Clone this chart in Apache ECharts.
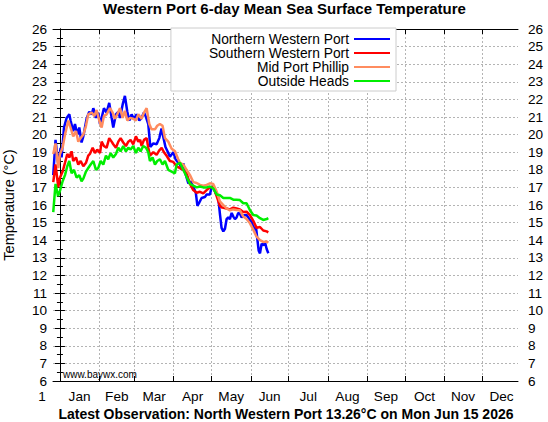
<!DOCTYPE html>
<html><head><meta charset="utf-8">
<script src="https://cdn.jsdelivr.net/npm/echarts@6/dist/echarts.min.js"></script>
<style>html,body{margin:0;padding:0;background:#fff}#c{width:548px;height:422px}</style>
</head><body><div id="c"></div>
<script>
const titleText = 'Western Port 6-day Mean Sea Surface Temperature';
const footerText = 'Latest Observation: North Western Port 13.26°C on Mon Jun 15 2026';
const creditText = 'www.baywx.com';
const yAxisName = 'Temperature (°C)';
const seriesNames = ['Northern Western Port', 'Southern Western Port', 'Mid Port Phillip', 'Outside Heads'];
const seriesColors = ['#0000ff', '#ff0000', '#ff8c5f', '#00ee00'];
const monthNames = ['Jan','Feb','Mar','Apr','May','Jun','Jul','Aug','Sep','Oct','Nov','Dec'];
// day-of-year (0 = Jan 1) at which each month starts, and month lengths
const monthStarts = [0,31,59,90,120,151,181,212,243,273,304,334];
const monthLengths = [31,28,31,30,31,30,31,31,30,31,30,31];
const xStartLabel = '1';
const xMin = -5.5, xMax = 362.5;
const yMin = 6, yMax = 26, yStep = 1;

// [day since Jan 1, °C]
const northWP = [[-5.3,17.7],[-3.5,19.7],[-1.3,18.3],[0.5,19.25],[1.3,18.7],[3.2,20.4],[5.3,20.95],[7.4,21.15],[8.4,20.8],[10.5,20.2],[11.9,20.6],[13.7,20.0],[15.3,20.4],[17.1,19.55],[18.5,19.9],[19.8,20.4],[21.1,20.9],[23.2,21.3],[25.1,21.15],[26.4,21.5],[28.5,20.95],[30.3,21.25],[31.7,20.6],[33.0,20.95],[34.8,21.5],[36.9,21.25],[39.0,21.8],[40.9,20.95],[42.2,20.4],[44.3,21.15],[46.2,21.3],[47.5,20.95],[49.6,21.7],[51.4,22.2],[53.3,21.3],[54.9,20.8],[56.7,21.15],[58.6,20.9],[60.7,21.15],[62.8,20.8],[64.6,20.95],[66.5,21.25],[68.1,21.0],[69.9,20.6],[71.5,19.3],[73.9,19.5],[76.5,19.45],[78.6,19.8],[80.4,20.35],[82.0,19.8],[83.5,19.3],[85.5,19.0],[87.0,18.74],[89.7,19.0],[91.5,18.6],[93.6,18.4],[95.0,18.3],[96.5,18.0],[97.6,18.37],[98.9,17.9],[101.6,17.23],[103.5,17.33],[105.5,17.04],[107.5,16.7],[108.8,15.95],[110.0,16.1],[112.1,16.4],[114.7,16.45],[116.1,16.6],[118.7,16.6],[120.0,17.0],[121.3,17.05],[123.0,16.7],[125.3,16.4],[126.6,15.5],[127.9,14.7],[129.3,14.5],[130.6,14.65],[131.9,15.2],[133.2,15.3],[134.5,15.2],[135.9,15.55],[137.2,15.34],[138.5,15.2],[139.8,15.3],[141.1,15.55],[142.4,15.5],[143.8,15.3],[145.1,15.4],[147.7,15.43],[150.4,15.15],[152.0,15.0],[153.5,14.6],[155.1,14.77],[156.3,14.0],[157.3,13.4],[158.3,13.25],[159.6,13.8],[160.9,13.7],[162.2,13.9],[163.6,13.5],[164.9,13.26]];
const southWP = [[-5.3,17.3],[-3.5,18.3],[-1.3,17.0],[0,17.55],[2.1,17.9],[4.0,18.4],[5.8,18.9],[7.4,18.7],[9.2,19.05],[10.5,18.5],[12.7,18.7],[14.5,18.3],[16.4,18.5],[18.5,18.2],[20.6,18.4],[22.4,18.8],[23.7,18.9],[25.9,19.25],[27.7,18.95],[29.5,19.15],[31.7,18.95],[33.0,19.6],[34.8,19.35],[36.9,19.25],[39.0,19.8],[40.9,19.6],[42.2,19.45],[44.3,19.25],[46.2,19.6],[48.0,19.8],[50.1,19.55],[52.2,19.35],[54.1,19.6],[55.9,19.7],[58.0,19.45],[60.1,19.9],[62.0,19.6],[63.5,19.7],[64.6,19.35],[66.5,19.7],[68.6,19.8],[69.9,19.25],[71.2,18.8],[73.9,19.0],[76.5,18.85],[78.6,19.1],[80.5,19.25],[82.3,19.0],[84.4,18.8],[87.0,18.5],[89.7,18.45],[92.3,18.2],[95.0,18.1],[97.6,18.0],[100.2,17.8],[102.9,17.2],[105.5,16.85],[108.2,16.7],[110.8,16.75],[113.4,16.66],[116.1,16.85],[118.7,17.0],[121.3,17.04],[124.0,16.5],[126.6,15.95],[128.5,15.85],[131.9,15.8],[134.5,15.75],[137.2,15.85],[139.8,15.8],[142.4,15.75],[145.1,15.6],[147.7,15.62],[150.4,15.43],[153.0,15.1],[155.6,14.7],[158.3,14.75],[160.9,14.55],[163.6,14.5],[164.9,14.45]];
const midPP = [[-5.3,18.9],[-3.5,19.5],[-1.3,18.1],[0,18.9],[2.1,19.25],[4.0,20.0],[6.6,20.8],[8.4,20.4],[10.5,19.9],[12.7,20.2],[14.5,19.6],[16.4,19.8],[18.5,20.0],[20.6,20.5],[22.4,21.15],[25.1,21.25],[27.2,21.05],[29.0,21.4],[31.1,20.8],[33.0,20.4],[34.8,21.05],[36.9,21.15],[39.6,21.5],[41.7,21.25],[43.5,20.9],[45.4,21.15],[47.5,21.5],[49.6,20.95],[51.4,21.35],[53.3,20.8],[55.4,20.95],[58.0,20.9],[60.1,20.8],[62.0,21.15],[64.6,20.9],[66.5,21.25],[68.6,21.5],[70.7,20.6],[72.5,20.3],[75.2,20.3],[77.0,20.5],[79.1,20.6],[81.2,20.5],[83.1,19.8],[85.7,19.6],[88.4,19.2],[91.0,19.05],[93.6,18.6],[95.0,18.4],[97.6,18.3],[100.2,18.0],[102.9,17.7],[105.5,17.3],[108.2,17.25],[110.8,17.14],[113.4,17.1],[116.1,17.14],[118.7,17.23],[121.3,17.2],[124.0,16.76],[126.6,16.2],[129.3,16.0],[131.9,15.8],[134.5,15.7],[137.2,15.75],[139.8,15.72],[142.4,15.7],[145.1,15.34],[147.7,15.2],[150.4,14.96],[153.0,14.6],[155.6,14.2],[158.3,14.0],[160.9,13.9],[163.6,13.92],[164.9,13.85]];
const outsideHeads = [[-5.3,15.6],[-3.5,17.2],[-1.5,16.5],[0,16.8],[2.1,17.35],[4.0,17.7],[5.8,18.2],[7.4,18.5],[9.2,17.8],[11.1,18.0],[13.2,17.55],[15.3,17.7],[17.1,17.35],[18.5,17.5],[20.6,17.9],[22.4,18.1],[24.3,18.3],[26.4,18.5],[28.5,18.0],[30.3,18.1],[32.2,18.5],[34.3,18.3],[36.4,18.8],[38.2,18.6],[40.1,18.95],[42.2,18.7],[44.3,18.9],[46.2,19.25],[48.0,19.05],[50.1,19.35],[52.2,19.05],[54.1,19.25],[55.9,19.15],[58.0,19.35],[60.1,18.95],[62.0,19.25],[63.8,19.05],[65.9,19.35],[68.1,19.25],[69.9,19.0],[71.2,18.5],[73.3,18.7],[75.2,18.3],[77.0,18.5],[79.1,18.6],[81.2,18.3],[83.1,18.5],[85.7,18.0],[88.4,17.9],[91.0,17.8],[92.3,18.3],[95.0,18.4],[97.6,18.0],[100.2,17.6],[102.9,17.2],[105.5,17.1],[108.2,17.0],[110.8,17.05],[113.4,17.0],[116.1,17.0],[118.7,17.05],[121.3,16.95],[124.0,16.6],[126.6,16.55],[129.3,16.4],[131.9,16.4],[134.5,16.4],[137.2,16.3],[139.8,16.3],[142.4,16.28],[145.1,16.1],[147.7,16.1],[150.4,15.7],[153.0,15.43],[155.6,15.4],[158.3,15.25],[160.9,15.15],[163.6,15.2],[164.9,15.25]];

const FONT = 'Liberation Sans, Arial, Helvetica, sans-serif';
const labelDays = monthStarts.map((s, i) => s + monthLengths[i] / 2);
const seriesData = [northWP, southWP, midPP, outsideHeads];
const gridLine = { color: '#b4b4b4', width: 1, type: [2, 2] };
const TICK_FS = 13.6;

const chart = echarts.init(document.getElementById('c'), null, { renderer: 'svg' });
chart.setOption({
  animation: false,
  backgroundColor: '#fff',
  textStyle: { fontFamily: FONT },
  grid: { left: 53, right: 30, top: 29, bottom: 41, outerBoundsMode: 'none', containLabel: false },
  legend: {
    data: seriesNames,
    orient: 'vertical', align: 'right',
    right: 152, top: 28,
    padding: [4, 6, 3, 38],
    itemWidth: 36, itemHeight: 2, itemGap: 0,
    icon: 'rect',
    backgroundColor: '#fff', borderColor: '#cccccc', borderWidth: 1,
    textStyle: { fontSize: 13.8, color: '#000', fontFamily: FONT, lineHeight: 13.7 },
    selectedMode: false
  },
  xAxis: [{
    type: 'value', min: xMin, max: xMax, position: 'bottom',
    axisLine: { show: true, lineStyle: { color: '#000', width: 1 } },
    axisTick: { show: true, inside: true, length: 5, customValues: monthStarts, lineStyle: { color: '#000' } },
    axisLabel: {
      customValues: [xMin].concat(labelDays),
      fontSize: TICK_FS, color: '#000', margin: 8, fontFamily: FONT,
      formatter: function (v) {
        if (Math.abs(v - xMin) < 1e-6) return '{one|' + xStartLabel + '}';
        const i = labelDays.findIndex(d => Math.abs(d - v) < 1e-6);
        return i >= 0 ? monthNames[i] : '';
      },
      rich: { one: { fontSize: TICK_FS, color: '#000', fontFamily: FONT, padding: [0, 22, 0, 0] } }
    },
    splitLine: { show: true, lineStyle: gridLine }
  }, {
    type: 'value', min: xMin, max: xMax, position: 'top',
    axisLine: { show: true, lineStyle: { color: '#000', width: 1 } },
    axisTick: { show: true, inside: true, length: 5, customValues: monthStarts, lineStyle: { color: '#000' } },
    axisLabel: { show: false },
    splitLine: { show: false }
  }],
  yAxis: [{
    type: 'value', min: yMin, max: yMax, interval: yStep, position: 'left',
    name: yAxisName, nameLocation: 'middle', nameGap: 37, nameMoveOverlap: false,
    nameTextStyle: { fontSize: 14.5, color: '#000', fontFamily: FONT },
    axisLine: { show: true, lineStyle: { color: '#000', width: 1 } },
    axisTick: { show: true, inside: true, length: 5, lineStyle: { color: '#000' } },
    minorTick: { show: true, splitNumber: 2, length: 3, lineStyle: { color: '#000' } },
    axisLabel: { fontSize: TICK_FS, color: '#000', margin: 6, fontFamily: FONT },
    splitLine: { show: true, lineStyle: gridLine }
  }, {
    type: 'value', min: yMin, max: yMax, interval: yStep, position: 'right',
    axisLine: { show: true, lineStyle: { color: '#000', width: 1 } },
    axisTick: { show: true, inside: true, length: 5, lineStyle: { color: '#000' } },
    minorTick: { show: true, splitNumber: 2, length: 3, lineStyle: { color: '#000' } },
    axisLabel: { fontSize: TICK_FS, color: '#000', margin: 10, fontFamily: FONT },
    splitLine: { show: false }
  }],
  series: seriesNames.map((name, i) => ({
    name: name, type: 'line', xAxisIndex: 0, yAxisIndex: 0,
    data: seriesData[i], showSymbol: false, symbol: 'none',
    lineStyle: { color: seriesColors[i], width: 2.5 },
    itemStyle: { color: seriesColors[i] },
    z: 3 + i
  })),
  graphic: [
    { type: 'text', x: 284.5, y: 8, style: { text: titleText, font: 'bold 15px ' + FONT, fill: '#000', align: 'center', verticalAlign: 'middle', textAlign: 'center', textVerticalAlign: 'middle' } },
    { type: 'text', x: 286, y: 414, style: { text: footerText, font: 'bold 14px ' + FONT, fill: '#000', align: 'center', verticalAlign: 'middle', textAlign: 'center', textVerticalAlign: 'middle' } },
    { type: 'text', x: 63, y: 374, z: 10, style: { text: creditText, font: '10px ' + FONT, fill: '#000', align: 'left', verticalAlign: 'middle', textAlign: 'left', textVerticalAlign: 'middle' } }
  ]
});
</script></body></html>
